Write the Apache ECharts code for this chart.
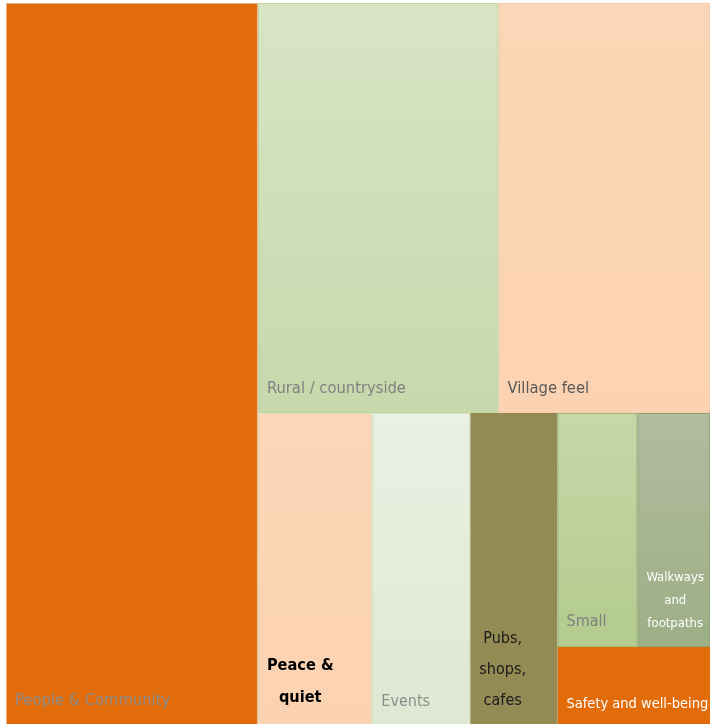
<!DOCTYPE html>
<html>
<head>
<meta charset="utf-8">
<script src="https://cdn.jsdelivr.net/npm/echarts@6/dist/echarts.min.js"></script>
<style>
  html, body { margin: 0; padding: 0; background: #ffffff; }
  #chart { width: 710px; height: 724px; }
</style>
</head>
<body>
<div id="chart"></div>
<script>
// What residents value about the village: theme and number of mentions
const themes = [
  'People & Community',
  'Rural / countryside',
  'Village feel',
  'Peace & quiet',
  'Events',
  'Pubs, shops, cafes',
  'Small',
  'Walkways and footpaths',
  'Safety and well-being'
];
const mentions = [107, 58, 51, 21, 18, 16, 11, 10, 7];

// How each theme name wraps inside its tile
const labelLines = [
  ['People & Community'],
  ['Rural / countryside'],
  ['Village feel'],
  ['Peace &', 'quiet'],
  ['Events'],
  ['Pubs,', 'shops,', 'cafes'],
  ['Small'],
  ['Walkways', 'and', 'footpaths'],
  ['Safety and well-being']
];

// Nesting of themes (indices into `themes`); each inner list is tiled as one block
const blocks = [0, [1, 2, [[3, [4, 5]], [[6, 7], 8]]]];

const FONT = '"DejaVu Sans Condensed", "Liberation Sans Narrow", sans-serif';

// Tile fills (top / bottom of a soft vertical gradient) and borders
const tileStyle = [
  { top: '#E36C0A', bottom: '#E36C0A', border: '#EDB383' },
  { top: '#D8E4C5', bottom: '#C7D8AC', border: '#C2D5A0' },
  { top: '#FCD6B6', bottom: '#FBD3B2', border: '#F3CCA8' },
  { top: '#FCD6B7', bottom: '#FBD3B2', border: '#D5E2BC' },
  { top: '#EAF0E3', bottom: '#DFE8D2', border: '#D2E0C0' },
  { top: '#948A54', bottom: '#948A54', border: '#948A54' },
  { top: '#C6D7A9', bottom: '#B3CB8E', border: '#9DB87C' },
  { top: '#B2BB9E', bottom: '#9DAF86', border: '#8FA474' },
  { top: '#E36C0A', bottom: '#E36C0A', border: '#E36C0A' }
];

// Label look per tile
const labelStyle = [
  { color: '#8c8c8c', size: 16.4, weight: 'normal', lh: 24, pb: 11, centred: false },
  { color: '#808080', size: 16.4, weight: 'normal', lh: 24, pb: 11, centred: false },
  { color: '#595959', size: 16.4, weight: 'normal', lh: 24, pb: 11, centred: false },
  { color: '#000000', size: 16.2, weight: 'bold',   lh: 32, pb: 10, centred: true },
  { color: '#8c8c8c', size: 16,   weight: 'normal', lh: 24, pb: 10, centred: false },
  { color: '#1a1a1a', size: 16,   weight: 'normal', lh: 31, pb: 8,  centred: true },
  { color: '#808080', size: 16,   weight: 'normal', lh: 24, pb: 12, centred: false },
  { color: '#ffffff', size: 13,   weight: 'normal', lh: 23, pb: 11, centred: true },
  { color: '#ffffff', size: 14.5, weight: 'normal', lh: 22, pb: 9,  centred: false }
];
const LABEL_INSET = 8;

const measureCtx = document.createElement('canvas').getContext('2d');
function blockWidth(lines, st) {
  measureCtx.font = st.weight + ' ' + st.size + 'px ' + FONT;
  return Math.max.apply(null, lines.map(function (l) { return measureCtx.measureText(l).width; }));
}

function leafNode(i) {
  const t = tileStyle[i];
  const s = labelStyle[i];
  const lines = labelLines[i];
  const w = blockWidth(lines, s);
  return {
    name: themes[i],
    value: mentions[i],
    itemStyle: {
      color: {
        type: 'linear', x: 0, y: 0, x2: 0, y2: 1,
        colorStops: [{ offset: 0, color: t.top }, { offset: 1, color: t.bottom }]
      },
      borderColor: t.border,
      borderWidth: 1
    },
    label: {
      show: true,
      position: 'insideBottomLeft',
      distance: 0,
      padding: [0, 0, s.pb, 0],
      align: s.centred ? 'center' : 'left',
      offset: [LABEL_INSET + (s.centred ? w / 2 : 0), 0],
      formatter: lines.join('\n'),
      color: s.color,
      fontSize: s.size,
      fontWeight: s.weight,
      lineHeight: s.lh,
      fontFamily: FONT,
      overflow: 'none'
    }
  };
}

function buildNode(b) {
  if (typeof b === 'number') return leafNode(b);
  return {
    name: '',
    children: b.map(buildNode),
    itemStyle: { borderWidth: 0, gapWidth: 0, borderColor: 'transparent' },
    label: { show: false }
  };
}

const chart = echarts.init(document.getElementById('chart'), null, { renderer: 'canvas' });
chart.setOption({
  animation: false,
  series: [{
    type: 'treemap',
    left: 6,
    top: 3,
    width: 704,
    height: 722,
    roam: false,
    nodeClick: false,
    sort: false,
    squareRatio: 1.9,
    breadcrumb: { show: false },
    upperLabel: { show: false },
    itemStyle: { borderWidth: 0, gapWidth: 0 },
    emphasis: { disabled: true },
    label: { show: true },
    data: blocks.map(buildNode)
  }]
});
</script>
</body>
</html>
